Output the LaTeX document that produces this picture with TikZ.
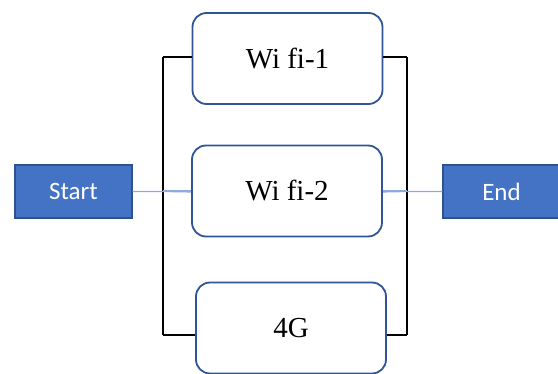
\documentclass[tikz,border=0pt]{standalone}
\usepackage{fontspec}
\setmainfont{Liberation Serif}
\newfontfamily\calib{Carlito}
\begin{document}
\begin{tikzpicture}[x=1pt,y=-1pt,
  termbox/.style={draw=termborder,fill=termfill,line width=1.2pt,minimum width=117pt,minimum height=53pt,inner sep=0pt,text=white,font=\calib\fontsize{25}{28}\selectfont},
  netbox/.style={draw=netborder,fill=white,line width=1.8pt,rounded corners=14pt,minimum width=190pt,minimum height=91pt,inner sep=0pt,font=\fontsize{29}{32}\selectfont},
  bracket/.style={draw=black,line width=1.8pt},
  link/.style={draw=linkblue,line width=1.2pt}]
\definecolor{termfill}{HTML}{4472C4}
\definecolor{termborder}{HTML}{2F528F}
\definecolor{netborder}{HTML}{2F5597}
\definecolor{linkblue}{HTML}{8FAADC}
\useasboundingbox (0,0) rectangle (558,374);
\coordinate (L1) at (163,57);
\coordinate (L3) at (163,335);
\coordinate (R1) at (407,57);
\coordinate (R3) at (407,335);
\draw[bracket] (L1) -- (L3);
\draw[bracket] (R1) -- (R3);
\node[termbox] (start) at (73.5,191.5) {Start};
\node[termbox] (end) at (501.5,191.5) {End};
\draw[link] (start.east) -- (L1 |- start.east) -- (192,192);
\draw[link] (382,192) -- (R1 |- end.west) -- (end.west);
\node[netbox] (w1) at (287.5,58.5) {Wi fi-1};
\node[netbox] (w2) at (287,191) {Wi fi-2};
\node[netbox] (g4) at (291,328) {4G};
\draw[bracket] (L1) -- (L1 -| w1.west);
\draw[bracket] (R1) -- (R1 -| w1.east);
\draw[bracket] (L3) -- (L3 -| g4.west);
\draw[bracket] (R3) -- (R3 -| g4.east);
\draw[link] (w2.west) -- (L1 |- w2.west);
\draw[link] (w2.east) -- (R1 |- w2.east);
\end{tikzpicture}
\end{document}
